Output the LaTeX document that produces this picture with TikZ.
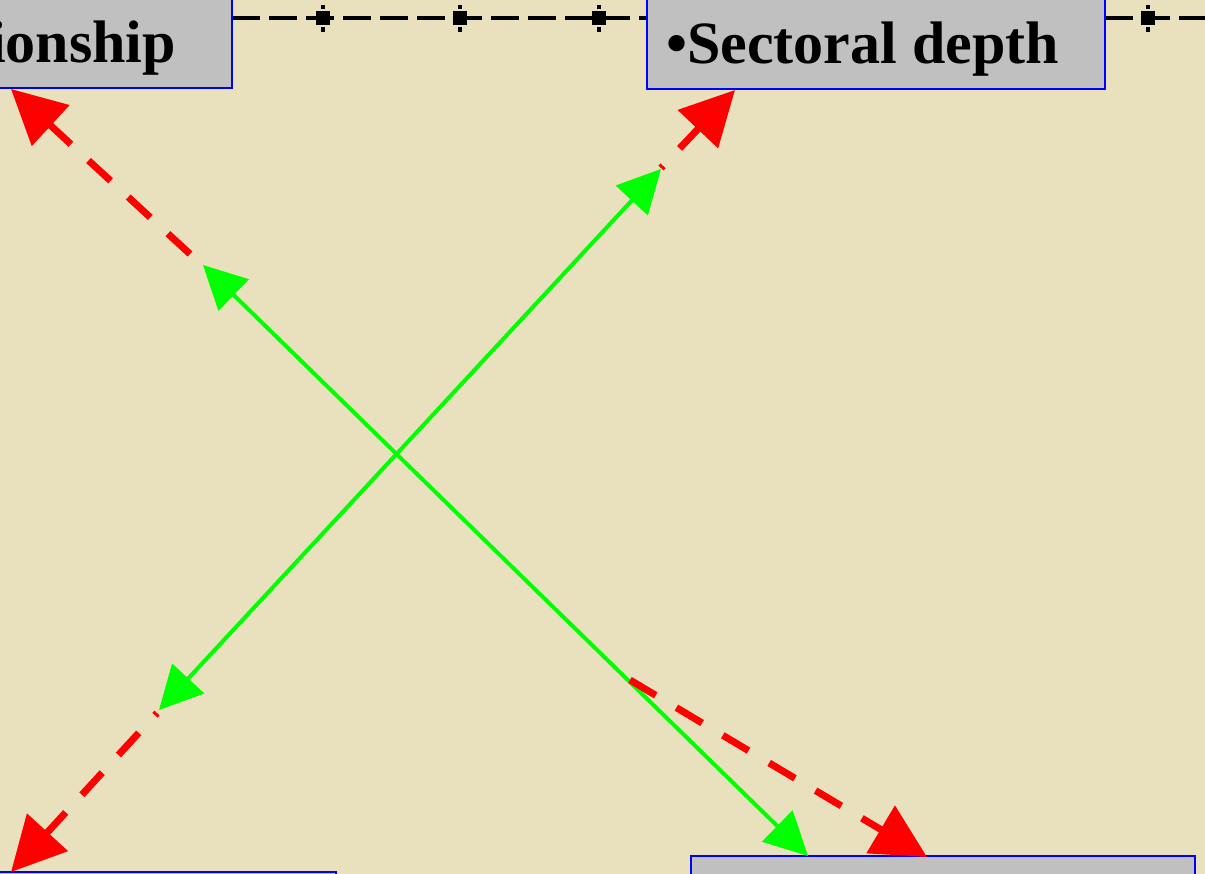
\documentclass[tikz,border=0pt]{standalone}
\usepackage{fontspec}
\setmainfont{Liberation Serif}
\usetikzlibrary{arrows.meta}
\definecolor{bg}{RGB}{233,224,189}
\definecolor{boxgray}{RGB}{192,192,192}
\definecolor{bblue}{RGB}{0,0,255}
\definecolor{gline}{RGB}{0,255,0}
\definecolor{rline}{RGB}{255,0,0}
\tikzset{
  boxstyle/.style={draw=bblue, line width=2pt, fill=boxgray, inner sep=0pt, outer sep=0pt},
  labeltext/.style={font=\fontsize{60}{60}\selectfont\bfseries, inner sep=0pt, text=black},
  greenarrow/.style={draw=gline, line width=4pt,
    {Triangle[length=43pt,width=43pt]}-{Triangle[length=43pt,width=43pt]}},
  redarrow/.style={draw=rline, line width=7pt, dash pattern=on 30pt off 24pt,
    -{Triangle[length=54pt,width=54pt]}},
  topline/.style={draw=black, line width=4pt, dash pattern=on 28pt off 9pt},
  tickmark/.pic={
    \fill[black] (-7,-7) rectangle (7,7);
    \fill[black] (-2.2,-13) rectangle (2.2,-9);
    \fill[black] (-2.2,9) rectangle (2.2,13.5);
  }
}
\begin{document}
\begin{tikzpicture}[x=1pt,y=-1pt]
\fill[bg] (0,0) rectangle (1205,874);
\useasboundingbox (0,0) rectangle (1205,874);
\clip (0,0) rectangle (1205,874);

% top dashed line
\coordinate (l1a) at (232,18.5);
\coordinate (l1b) at (647,18.5);
\coordinate (l2a) at (1105,18.5);
\coordinate (l2b) at (1210,18.5);
\draw[topline] (l1a) -- (l1b);
\draw[topline] (l2a) -- (l2b);
\pic at (323,18.5) {tickmark};
\pic at (460,18.5) {tickmark};
\pic at (599,18.5) {tickmark};
\pic at (1148,18.5) {tickmark};

% boxes
\node[boxstyle, minimum width=262pt, minimum height=130pt, anchor=south east] (boxTL) at (232,88) {};
\node[boxstyle, minimum width=458pt, minimum height=130pt, anchor=south west] (boxTR) at (647,89) {};
\node[boxstyle, minimum width=360pt, minimum height=100pt, anchor=north east] (boxBL) at (336,872) {};
\node[boxstyle, minimum width=504pt, minimum height=100pt, anchor=north west] (boxBR) at (691,856) {};

\node[labeltext, anchor=base east] (tTL) at (176,63) {ionship};
\node[labeltext, anchor=base west] (tTR) at (666,64) {•Sectoral depth};

% green double arrows
\coordinate (g1a) at (203,265);
\coordinate (g1b) at (808,856);
\coordinate (g2a) at (661,169);
\coordinate (g2b) at (159,710);
\draw[greenarrow] (g1a) -- (g1b);
\draw[greenarrow] (g2a) -- (g2b);

% red dashed arrows
\coordinate (r1s) at (190,254);
\coordinate (r1e) at (11,89);
\coordinate (r2s) at (661,168);
\coordinate (r2e) at (735,90);
\coordinate (r3s) at (157,713);
\coordinate (r3e) at (11,872);
\coordinate (r4s) at (630,680);
\coordinate (r4e) at (927,857);
\draw[redarrow] (r1s) -- (r1e);
\draw[redarrow, dash phase=27pt] (r2s) -- (r2e);
\draw[redarrow, dash phase=27pt] (r3s) -- (r3e);
\draw[redarrow] (r4s) -- (r4e);
\end{tikzpicture}
\end{document}
